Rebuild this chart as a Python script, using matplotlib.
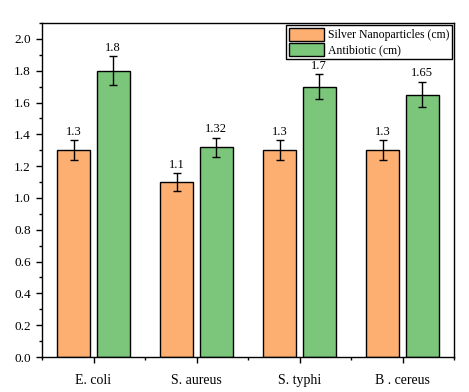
import numpy as np
import matplotlib
matplotlib.use("Agg")
import matplotlib.pyplot as plt
from matplotlib.ticker import MultipleLocator, FixedLocator

plt.rcParams['font.family'] = ['Liberation Serif', 'DejaVu Serif']

bacteria = ["E. coli", "S. aureus", "S. typhi", "B . cereus"]
silver = [1.3, 1.1, 1.3, 1.3]
silver_err = [0.063, 0.055, 0.063, 0.063]
antibiotic = [1.8, 1.32, 1.7, 1.65]
antibiotic_err = [0.09, 0.06, 0.08, 0.08]
silver_labels = ["1.3", "1.1", "1.3", "1.3"]
antibiotic_labels = ["1.8", "1.32", "1.7", "1.65"]

fig = plt.figure(figsize=(4.69, 3.92), dpi=100)
ax = fig.add_axes([42 / 469, 35 / 392, 412 / 469, 334 / 392])

x = np.arange(len(bacteria))
w = 0.32
off = 0.19
ax.bar(x - off, silver, w, yerr=silver_err, color="#FDAF72", edgecolor="black",
       linewidth=1, capsize=3, error_kw=dict(elinewidth=1, capthick=1),
       label="Silver Nanoparticles (cm)")
ax.bar(x + off, antibiotic, w, yerr=antibiotic_err, color="#7BC67B", edgecolor="black",
       linewidth=1, capsize=3, error_kw=dict(elinewidth=1, capthick=1),
       label="Antibiotic (cm)")

for i in range(len(x)):
    ax.text(x[i] - off, silver[i] + silver_err[i] + 0.015, silver_labels[i],
            ha="center", va="bottom", fontsize=9)
    ax.text(x[i] + off, antibiotic[i] + antibiotic_err[i] + 0.015, antibiotic_labels[i],
            ha="center", va="bottom", fontsize=9)

ax.set_xlim(-0.5, 3.5)
ax.set_ylim(0, 2.1)
ax.set_xticks(x)
ax.set_xticklabels(bacteria, fontsize=10)
ax.xaxis.set_minor_locator(FixedLocator([-0.5, 0.5, 1.5, 2.5, 3.5]))
ax.yaxis.set_major_locator(MultipleLocator(0.2))
ax.yaxis.set_minor_locator(MultipleLocator(0.1))
ax.yaxis.set_major_formatter(matplotlib.ticker.FormatStrFormatter("%.1f"))
ax.tick_params(axis="both", which="major", direction="out", length=4.5, width=1, labelsize=9.5)
ax.tick_params(axis="both", which="minor", direction="out", length=2.5, width=1)
ax.tick_params(axis="x", labelsize=10, pad=8)
for s in ax.spines.values():
    s.set_linewidth(1)

leg = ax.legend(loc="upper right", fontsize=8.5, frameon=True, fancybox=False,
                edgecolor="black", framealpha=1, borderpad=0.25, handlelength=3.0,
                handleheight=1.4, handletextpad=0.3, labelspacing=0.1,
                borderaxespad=0.15)
leg.get_frame().set_linewidth(1)

fig.savefig("out.png", dpi=100)
